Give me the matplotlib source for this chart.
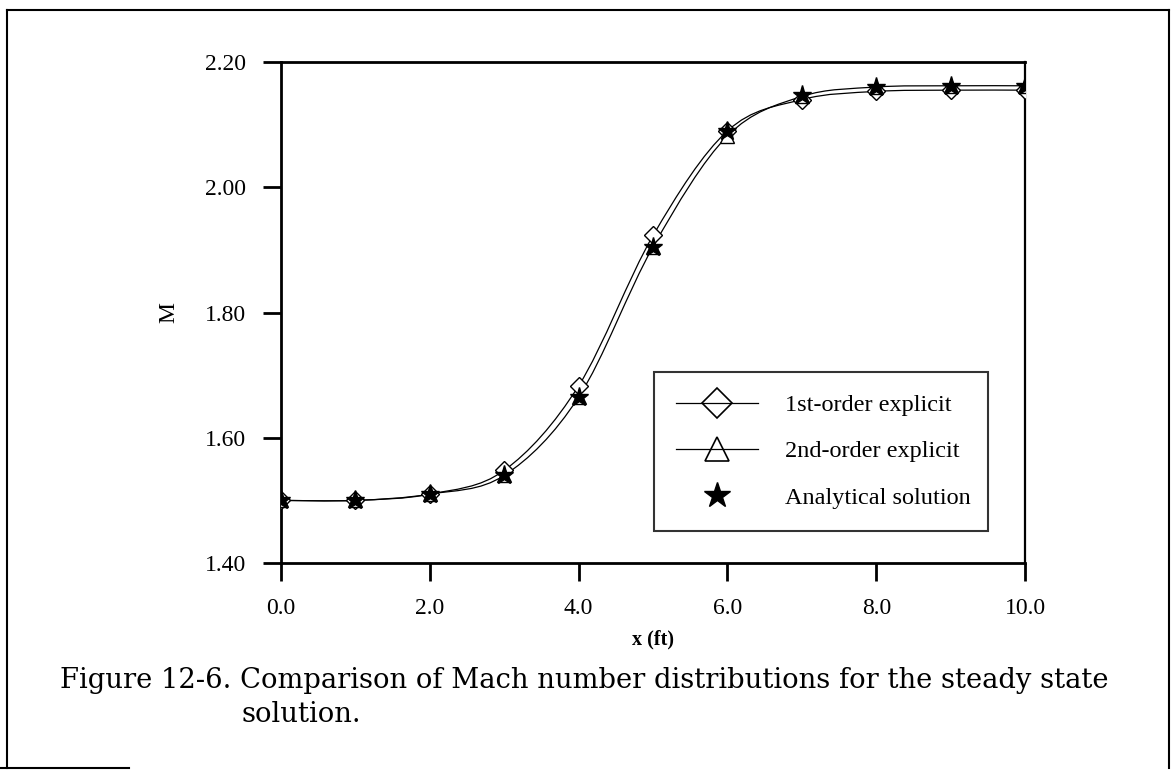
import matplotlib
matplotlib.use('Agg')

import matplotlib.pyplot as plt
import numpy as np
from matplotlib.lines import Line2D
from matplotlib.path import Path
from matplotlib.patches import PathPatch

# data
x_ft = [0, 1, 2, 3, 4, 5, 6, 7, 8, 9, 10]
mach_first = [1.500, 1.500, 1.510, 1.548, 1.683, 1.923, 2.090, 2.140, 2.153, 2.155, 2.155]
mach_second = [1.500, 1.500, 1.510, 1.540, 1.665, 1.905, 2.082, 2.145, 2.160, 2.162, 2.162]
mach_exact = [1.500, 1.500, 1.510, 1.540, 1.665, 1.905, 2.090, 2.148, 2.160, 2.162, 2.162]

x_ticks = [0, 2, 4, 6, 8, 10]
x_ticklabels = ['0.0', '2.0', '4.0', '6.0', '8.0', '10.0']
y_ticks = [1.40, 1.60, 1.80, 2.00, 2.20]
y_ticklabels = ['1.40', '1.60', '1.80', '2.00', '2.20']

legend_labels = ['1st-order explicit', '2nd-order explicit', 'Analytical solution']
caption_1 = 'Figure 12-6. Comparison of Mach number distributions for the steady state'
caption_2 = 'solution.'

SERIF = 'Liberation Serif'


def smooth_path(xs, ys):
	# smoothed line through the data points (cubic bezier segments)
	pts = np.column_stack([xs, ys]).astype(float)
	verts = [pts[0]]
	codes = [Path.MOVETO]
	n = len(pts)
	for i in range(n - 1):
		p0 = pts[i - 1] if i > 0 else pts[i]
		p1 = pts[i]
		p2 = pts[i + 1]
		p3 = pts[i + 2] if i + 2 < n else pts[i + 1]
		verts += [p1 + (p2 - p0) / 6.0, p2 - (p3 - p1) / 6.0, p2]
		codes += [Path.CURVE4] * 3
	return Path(verts, codes)


fig = plt.figure(figsize=(11.71, 7.70), dpi=100)
ax = fig.add_axes([0.2400, 0.2688, 0.6354, 0.6507])

for ys in (mach_first, mach_second):
	ax.add_patch(PathPatch(smooth_path(x_ft, ys), facecolor='none', edgecolor='black', lw=0.9, zorder=2))

ax.plot(x_ft, mach_first, ls='none', marker='D', ms=9, mfc='white', mec='black', mew=1.0, zorder=3)
ax.plot(x_ft, mach_second, ls='none', marker='^', ms=10, mfc='white', mec='black', mew=1.0, zorder=4)
ax.plot(x_ft, mach_exact, ls='none', marker='*', ms=14, mfc='black', mec='black', zorder=5)

ax.set_xlim(0, 10)
ax.set_ylim(1.40, 2.20)
ax.set_xticks(x_ticks)
ax.set_xticklabels(x_ticklabels, family=SERIF, fontsize=17)
ax.set_yticks(y_ticks)
ax.set_yticklabels(y_ticklabels, family=SERIF, fontsize=17)
ax.tick_params(axis='x', direction='out', length=13, width=2.0, pad=12)
ax.tick_params(axis='y', direction='out', length=13, width=2.0, pad=12)
for side in ['left', 'right', 'top', 'bottom']:
	ax.spines[side].set_linewidth(2.0)
ax.spines['right'].set_linewidth(1.6)

ax.set_xlabel('x (ft)', family=SERIF, fontsize=14.5, fontweight='bold')
ax.xaxis.set_label_coords(0.5, -0.132)
ax.set_ylabel('M', family=SERIF, fontsize=17)
ax.yaxis.set_label_coords(-0.137, 0.5)

handles = [
	Line2D([], [], color='black', lw=0.9, marker='D', ms=15, mfc='none', mec='black', mew=1.2),
	Line2D([], [], color='black', lw=0.9, marker='^', ms=17, mfc='none', mec='black', mew=1.2),
	Line2D([], [], ls='none', marker='*', ms=19, mfc='black', mec='black'),
]
leg = ax.legend(handles, legend_labels, loc='upper left', bbox_to_anchor=(0.501, 0.062, 0.449, 0.319),
	mode='expand', prop={'family': SERIF, 'size': 17.5}, frameon=True, fancybox=False, shadow=False,
	handlelength=3.4, handletextpad=1.1, labelspacing=1.0, borderpad=0.9, borderaxespad=0)
leg.get_frame().set_edgecolor('black')
leg.get_frame().set_linewidth(1.5)

fig.text(0.051, 0.1065, caption_1, family='DejaVu Serif', fontsize=19.7, va='baseline', ha='left')
fig.text(0.206, 0.0623, caption_2, family='DejaVu Serif', fontsize=19.7, va='baseline', ha='left')

# page frame around the figure
frame_kw = dict(color='black', lw=1.5, transform=fig.transFigure)
fig.add_artist(Line2D([0.006, 0.006], [0.003, 0.987], **frame_kw))
fig.add_artist(Line2D([0.006, 0.998], [0.987, 0.987], **frame_kw))
fig.add_artist(Line2D([0.998, 0.998], [0.987, 0.003], **frame_kw))
fig.add_artist(Line2D([0.0, 0.11], [0.003, 0.003], **frame_kw))

fig.savefig('out.png', dpi=100)
